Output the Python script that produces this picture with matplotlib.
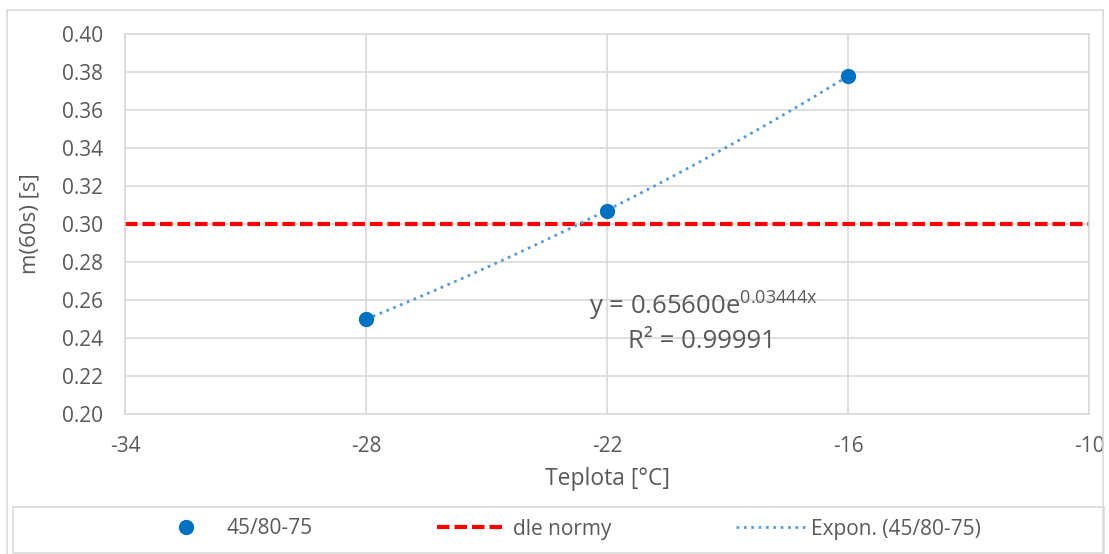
import numpy as np
import matplotlib.pyplot as plt
from matplotlib.patches import Rectangle

## data
teplota = [-28, -22, -16]
m60 = [0.250, 0.307, 0.378]
norma = 0.30
xticks = [-34, -28, -22, -16, -10]
yticks = [0.20, 0.22, 0.24, 0.26, 0.28, 0.30, 0.32, 0.34, 0.36, 0.38, 0.40]

plt.rcParams['font.family'] = ['Open Sans', 'DejaVu Sans']
plt.rcParams['axes.unicode_minus'] = False
txt = '#595959'
grid = '#d9d9d9'

fig = plt.figure(figsize=(11.09, 5.54), dpi=100)
ax = fig.add_axes([0.1127, 0.2527, 0.8693, 0.6859])

# exponential trend fit
b, lna = np.polyfit(teplota, np.log(m60), 1)
xt = np.linspace(teplota[0], teplota[-1], 100)
yt = np.exp(lna) * np.exp(b * xt)

ax.plot(xt, yt, ':', color='#5B9BD5', lw=2, label='Expon. (45/80-75)', zorder=3)
ax.axhline(norma, color='#FF0000', lw=3, dashes=(3, 1.2), label='dle normy', zorder=2)
ax.plot(teplota, m60, 'o', color='#0070C0', ms=10, label='45/80-75', zorder=4)

ax.set_xlim(-34, -10)
ax.set_ylim(0.20, 0.40)
ax.set_xticks(xticks)
ax.set_yticks(yticks)
ax.set_yticklabels(['%.2f' % v for v in yticks])
ax.grid(True, color=grid, lw=1.2)
ax.set_axisbelow(True)
for s in ax.spines.values():
    s.set_color(grid)
    s.set_linewidth(1.2)
ax.tick_params(length=0, colors=txt, labelsize=15, pad=16)
ax.set_xlabel('Teplota [°C]', color=txt, fontsize=16.5, labelpad=7)
ax.set_ylabel('m(60s) [s]', color=txt, fontsize=16, labelpad=15)

ax.text(-19.6, 0.2574, r'y = 0.65600e$^{\mathregular{0.03444x}}$', color=txt, fontsize=18.5,
        ha='center', va='center')
ax.text(-19.65, 0.2384, 'R² = 0.99991', color=txt, fontsize=18.5, ha='center', va='center')

h, l = ax.get_legend_handles_labels()
order = [2, 1, 0]
leg = fig.legend([h[i] for i in order], [l[i] for i in order], ncol=3,
                 loc='center left', bbox_to_anchor=(151 / 1109, 1 - 529 / 554),
                 frameon=False, fontsize=15, columnspacing=6, handlelength=3.36,
                 handletextpad=0.25, borderpad=0, borderaxespad=0, labelcolor=txt)

# legend box and chart border
fig.patches.append(Rectangle((13 / 1109, 1 / 554), 1091 / 1109, 46 / 554,
                             transform=fig.transFigure, fill=False, ec=grid, lw=1.2))
fig.patches.append(Rectangle((7 / 1109, -0.01), 1096 / 1109, 1 - 10 / 554 + 0.01,
                             transform=fig.transFigure, fill=False, ec=grid, lw=1.2))

plt.savefig('out.png', dpi=100)
plt.close()
